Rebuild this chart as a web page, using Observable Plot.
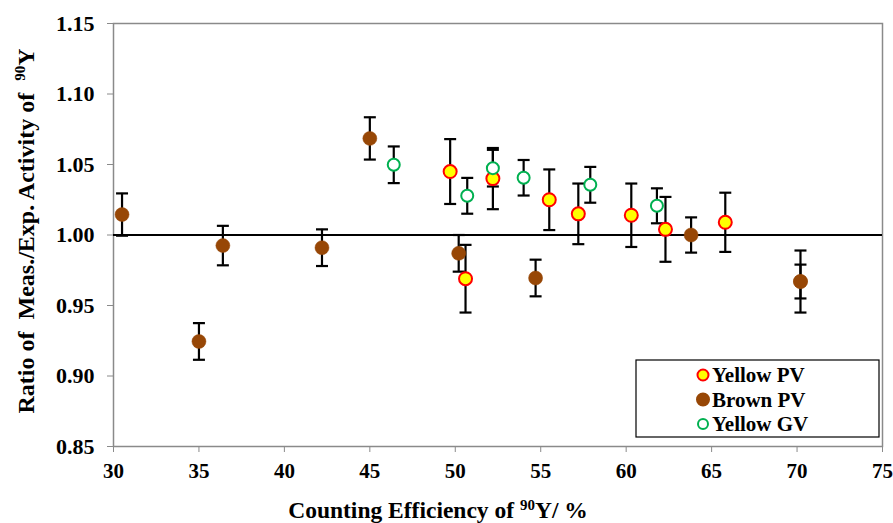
<!DOCTYPE html>
<html>
<head>
<meta charset="utf-8">
<script src="https://cdn.jsdelivr.net/npm/d3@7"></script>
<script src="https://cdn.jsdelivr.net/npm/@observablehq/plot@0.6"></script>
<style>
  html, body { margin: 0; padding: 0; background: #fff; }
  #chart { width: 893px; height: 523px; }
</style>
</head>
<body>
<div id="chart"></div>
<script>
// ---- data ----
const yellowPVx   = [49.7, 50.6, 52.2, 55.5, 57.2, 60.3, 62.3, 65.8];
const yellowPVy   = [1.045, 0.969, 1.040, 1.025, 1.015, 1.014, 1.004, 1.009];
const yellowPVerr = [0.023, 0.024, 0.0217, 0.0215, 0.0215, 0.0225, 0.023, 0.021];

const brownPVx   = [30.5, 35.0, 36.4, 42.2, 45.0, 50.2, 54.7, 63.8, 70.2, 70.2];
const brownPVy   = [1.0145, 0.9245, 0.9925, 0.991, 1.0685, 0.987, 0.9695, 1.000, 0.967, 0.967];
const brownPVerr = [0.015, 0.013, 0.014, 0.013, 0.015, 0.013, 0.013, 0.0125, 0.022, 0.012];

const yellowGVx   = [46.4, 50.7, 52.2, 54.0, 57.9, 61.8];
const yellowGVy   = [1.0498, 1.0278, 1.0474, 1.0406, 1.0356, 1.0207];
const yellowGVerr = [0.013, 0.0127, 0.013, 0.0126, 0.0127, 0.0124];

const xTicks = [30, 35, 40, 45, 50, 55, 60, 65, 70, 75];
const yTicks = [0.85, 0.90, 0.95, 1.00, 1.05, 1.10, 1.15];
const seriesNames = ["Yellow PV", "Brown PV", "Yellow GV"];

// ---- build table ----
function rows(xs, ys, es, s) { return xs.map((x, i) => ({x, y: ys[i], err: es[i], series: s})); }
const yellow = rows(yellowPVx, yellowPVy, yellowPVerr, seriesNames[0]);
const brown  = rows(brownPVx, brownPVy, brownPVerr, seriesNames[1]);
const green  = rows(yellowGVx, yellowGVy, yellowGVerr, seriesNames[2]);
const all = [...brown, ...yellow, ...green];

const capSymbol = { draw(ctx) { ctx.moveTo(-6, 0); ctx.lineTo(6, 0); } };
const FONT = "Liberation Serif, Times New Roman, serif";
const AXIS_GRAY = "#8a8a8a";
const BROWN = "#974706", YELLOW = "#ffff00", RED = "#ff0000", GREEN = "#00b050";

const chart = Plot.plot({
  width: 893, height: 523,
  marginLeft: 113, marginRight: 11, marginTop: 23, marginBottom: 77,
  style: { fontFamily: FONT, background: "#fff", color: "black" },
  x: { domain: [30, 75] },
  y: { domain: [0.85, 1.15] },
  marks: [
    Plot.frame({ stroke: AXIS_GRAY, strokeWidth: 1.5 }),
    Plot.axisX({ ticks: xTicks, tickSize: 6, tickPadding: 11, stroke: AXIS_GRAY, fill: "black",
                 label: null, tickFormat: d => d }),
    Plot.axisY({ ticks: yTicks, tickSize: 6, tickPadding: 13, stroke: AXIS_GRAY, fill: "black",
                 label: null, tickFormat: d => d.toFixed(2) }),
    Plot.ruleY([1.0], { stroke: "black", strokeWidth: 2 }),
    // error bars
    Plot.ruleX(all, { x: "x", y1: d => d.y - d.err, y2: d => d.y + d.err, stroke: "black", strokeWidth: 2.2 }),
    Plot.dot(all, { x: "x", y: d => d.y + d.err, symbol: capSymbol, stroke: "black", strokeWidth: 2.2, r: 6 }),
    Plot.dot(all, { x: "x", y: d => d.y - d.err, symbol: capSymbol, stroke: "black", strokeWidth: 2.2, r: 6 }),
    // points
    Plot.dot(brown,  { x: "x", y: "y", r: 7, fill: BROWN, stroke: BROWN, strokeWidth: 0.5 }),
    Plot.dot(yellow, { x: "x", y: "y", r: 6.5, fill: YELLOW, stroke: RED, strokeWidth: 2 }),
    Plot.dot(green,  { x: "x", y: "y", r: 6, fill: "white", stroke: GREEN, strokeWidth: 2 })
  ]
});
document.getElementById("chart").appendChild(chart);

const svg = d3.select(chart);
// enforce serif bold tick labels (inline styles on each text node)
svg.selectAll("text").each(function () {
  const t = d3.select(this);
  const g = this.closest("g[aria-label]");
  const lab = g ? g.getAttribute("aria-label") : "";
  if (lab.indexOf("x-axis") >= 0) {
    t.style("font-family", FONT).style("font-weight", "bold").style("font-size", "21px");
  } else if (lab.indexOf("y-axis") >= 0) {
    t.style("font-family", FONT).style("font-weight", "bold").style("font-size", "22px");
  }
});

// ---- axis titles and legend ----
const xt = svg.append("text").attr("x", 438).attr("y", 518).attr("text-anchor", "middle")
  .style("font-family", FONT).style("font-weight", "bold").style("font-size", "23.5px").attr("fill", "black");
xt.append("tspan").text("Counting Efficiency of ");
xt.append("tspan").style("font-size", "15px").attr("dy", -8).text("90");
xt.append("tspan").attr("dy", 8).text("Y/ %");

const yt = svg.append("text").attr("transform", "translate(34,231) rotate(-90)").attr("text-anchor", "middle")
  .style("font-family", FONT).style("font-weight", "bold").style("font-size", "24px").attr("fill", "black")
  .attr("xml:space", "preserve").style("white-space", "pre");
yt.append("tspan").text("Ratio of  Meas./Exp. Activity of  ");
yt.append("tspan").style("font-size", "15px").attr("dy", -9).text("90");
yt.append("tspan").attr("dy", 9).text("Y");

const lg = svg.append("g").attr("text-anchor", "start");
lg.append("rect").attr("x", 636).attr("y", 360).attr("width", 243).attr("height", 77)
  .attr("fill", "white").attr("stroke", "black").attr("stroke-width", 1.2);
const legendStyles = [
  { fill: YELLOW, stroke: RED, r: 5.5 },
  { fill: BROWN, stroke: BROWN, r: 6 },
  { fill: "white", stroke: GREEN, r: 5 }
];
seriesNames.forEach((name, i) => {
  const cy = 375 + i * 24.5;
  const st = legendStyles[i];
  lg.append("circle").attr("cx", 703).attr("cy", cy).attr("r", st.r)
    .attr("fill", st.fill).attr("stroke", st.stroke).attr("stroke-width", 2);
  lg.append("text").attr("x", 712).attr("y", cy + 7).attr("text-anchor", "start")
    .style("font-family", FONT).style("font-weight", "bold").style("font-size", "21px")
    .attr("fill", "black").text(name);
});
</script>
</body>
</html>
